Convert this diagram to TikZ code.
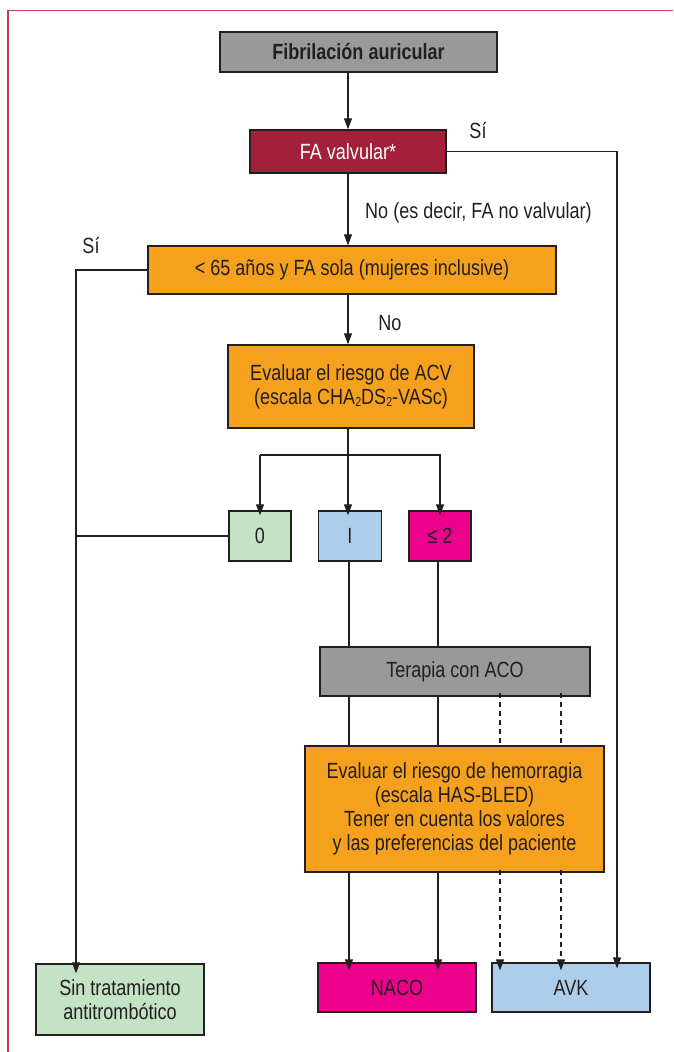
\documentclass[tikz,border=0pt]{standalone}
\usepackage{fontspec}
\setmainfont{Liberation Sans}[FakeStretch=0.82]
\usetikzlibrary{arrows.meta}
\definecolor{txt}{HTML}{231F20}
\definecolor{cgray}{HTML}{999999}
\definecolor{cred}{HTML}{A3203A}
\definecolor{corange}{HTML}{F6A11E}
\definecolor{cgreen}{HTML}{C4E2C4}
\definecolor{cblue}{HTML}{AECDEB}
\definecolor{cmag}{HTML}{EC008C}
\definecolor{frame}{HTML}{C8395A}
\newcommand\subtwo{{\fontsize{13}{13}\selectfont\raisebox{-2pt}{2}}}
\begin{document}
\begin{tikzpicture}[x=1pt,y=-1pt,
  box/.style={draw=txt, line width=1.3pt, inner sep=0pt, align=center,
    font=\fontsize{22}{24}\selectfont, text=txt},
  lbl/.style={font=\fontsize{22}{24}\selectfont, text=txt, inner sep=0pt},
  ln/.style={line width=1.1pt, draw=txt},
  arr/.style={-{Triangle[width=8pt,length=11pt]}},
  dsh/.style={dash pattern=on 5pt off 4pt}]
\useasboundingbox (0,0) rectangle (673,1052);
\draw[frame, line width=1.4pt] (8,1052) -- (8,10.5) -- (673,10.5);

\node[box, fill=cgray, minimum width=277pt, minimum height=40pt, font=\fontsize{22}{24}\selectfont\bfseries] (fib) at (358.5,52) {Fibrilación auricular};
\node[box, fill=cred, text=white, minimum width=196pt, minimum height=43pt] (fa) at (348,151.5) {FA valvular*};
\node[box, fill=corange, minimum width=408pt, minimum height=48pt] (lt) at (352,270) {< 65 años y FA sola (mujeres inclusive)};
\node[box, fill=corange, minimum width=246pt, minimum height=83pt] (acv) at (351,386.5) {Evaluar el riesgo de ACV\\(escala CHA\subtwo DS\subtwo-VASc)};
\node[box, fill=cgreen, minimum width=62pt, minimum height=50pt] (b0) at (260,536) {0};
\node[box, fill=cblue, minimum width=63pt, minimum height=50pt] (bI) at (350,536) {I};
\node[box, fill=cmag, minimum width=62pt, minimum height=50pt] (b2) at (440,536) {≤ 2};
\node[box, fill=cgray, minimum width=270pt, minimum height=49pt] (ter) at (455,671.5) {Terapia con ACO};
\node[box, fill=corange, minimum width=299pt, minimum height=126pt] (has) at (454.5,809) {Evaluar el riesgo de hemorragia\\(escala HAS-BLED)\\Tener en cuenta los valores\\y las preferencias del paciente};
\node[box, fill=cmag, minimum width=158pt, minimum height=49pt] (naco) at (397,987.5) {NACO};
\node[box, fill=cblue, minimum width=158pt, minimum height=49pt] (avk) at (571,987.5) {AVK};
\node[box, fill=cgreen, minimum width=168pt, minimum height=71pt] (sin) at (120,999.5) {Sin tratamiento\\antitrombótico};

% labels
\node[lbl] (si1) at (478,131) {Sí};
\node[lbl, anchor=west] (no1) at (365,213) {No (es decir, FA no valvular)};
\node[lbl] (si2) at (91,246) {Sí};
\node[lbl] (no2) at (390,323) {No};

% coordinates
\coordinate (xr) at (617,0);
\coordinate (xl) at (76,0);
\coordinate (x1) at (349,0);
\coordinate (x2) at (438,0);
\coordinate (x3) at (500,0);
\coordinate (x4) at (561,0);
\coordinate (split) at (348,455);

% connectors
\draw[ln,arr] (fib.south -| fa.north) -- (fa.north);
\draw[ln,arr,shorten >=1pt] (fa.east) -| ([yshift=-7pt]xr |- avk.north);
\draw[ln,arr] (fa.south) -- (fa.south |- lt.north);
\draw[ln,arr] (lt.west) -| ([yshift=-10pt]xl |- sin.north);
\draw[ln,arr] (lt.south -| fa.south) -- (fa.south |- acv.north);
\draw[ln] (acv.south -| split) -- (split);
\draw[ln,arr] (split -| b0.north) |- (split) -| (split -| b2.north) -- ([yshift=-5pt]b2.north);
\draw[ln,arr] (split -| b0.north) -- ([yshift=-5pt]b0.north);
\draw[ln,arr] (split) -- ([yshift=-5pt]split |- bI.north);
\draw[ln] (b0.west) -- (b0.west -| xl);
\draw[ln] (bI.south -| x1) -- (x1 |- ter.north);
\draw[ln] (b2.south -| x2) -- (x2 |- ter.north);
\draw[ln] (ter.south -| x1) -- (x1 |- has.north);
\draw[ln] (ter.south -| x2) -- (x2 |- has.north);
\draw[ln,dsh] ([yshift=4pt]ter.south -| x3) -- (x3 |- has.north);
\draw[ln,dsh] ([yshift=4pt]ter.south -| x4) -- (x4 |- has.north);
\draw[ln,arr] (has.south -| x1) -- ([yshift=-8pt]x1 |- naco.north);
\draw[ln,arr] (has.south -| x2) -- ([yshift=-8pt]x2 |- naco.north);
\draw[ln,arr,dsh] ([yshift=3pt]has.south -| x3) -- ([yshift=-8pt]x3 |- avk.north);
\draw[ln,arr,dsh] ([yshift=3pt]has.south -| x4) -- ([yshift=-8pt]x4 |- avk.north);
\end{tikzpicture}
\end{document}
